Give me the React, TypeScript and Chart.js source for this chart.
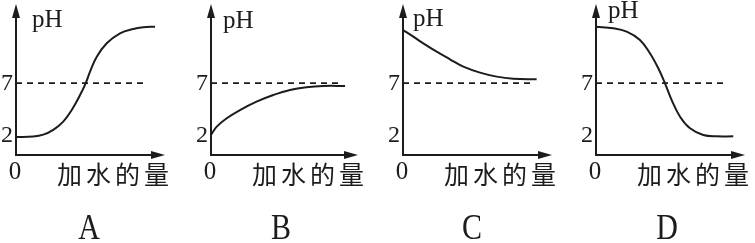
import React, { useEffect, useRef } from "react";
import { Chart, registerables } from "chart.js";

Chart.register(...registerables);

// ---- data ----
const panelLetters = ["A", "B", "C", "D"];
const yTitle = "pH";
const xTitle = "加水的量";
const originLabel = "0";
const yTickValues = [2, 7];
const neutralPH = 7;

const aX = [0, 1.16, 1.83, 2.5, 3.17, 3.74, 4.3, 4.63, 4.97, 5.42, 6.09, 6.98, 7.87, 8.54, 9.33];
const aPH = [1.75, 1.8, 1.98, 2.45, 3.25, 4.38, 5.84, 6.82, 8.11, 9.57, 10.88, 11.85, 12.27, 12.43, 12.49];

const bX = [0, 0.39, 1.07, 1.97, 3.1, 4.24, 5.37, 6.49, 7.64, 9.12];
const bPH = [1.95, 2.76, 3.58, 4.38, 5.2, 5.84, 6.33, 6.6, 6.72, 6.72];

const cX = [0, 0.69, 1.36, 2.26, 3.15, 4.05, 5.17, 6.29, 7.4, 8.97];
const cPH = [12.17, 11.52, 10.87, 10.06, 9.32, 8.6, 8.02, 7.63, 7.43, 7.37];

const dX = [0, 1.16, 2.06, 2.95, 3.62, 4.18, 4.63, 5.08, 5.64, 6.31, 7.2, 8.1, 9.21];
const dPH = [12.49, 12.34, 12.01, 11.2, 9.9, 8.44, 6.98, 5.35, 3.73, 2.6, 1.95, 1.82, 1.82];

const dashEnds = [8.86, 8.9, 8.75, 8.76];
const seriesX = [aX, bX, cX, dX];
const seriesPH = [aPH, bPH, cPH, dPH];

// ---- layout / style ----
const INK = "#1c1c1c";
const SERIF = '"Liberation Serif", "DejaVu Serif", serif';
const CJK = '"Noto Sans CJK SC", "Noto Sans CJK JP", sans-serif';
const layouts = [
  { left: 0, width: 190, padL: 16, padR: 25, phX: 32, phY: 27, letterX: 89 },
  { left: 190, width: 190, padL: 21, padR: 22, phX: 33, phY: 28, letterX: 91 },
  { left: 380, width: 190, padL: 23, padR: 18, phX: 33, phY: 26, letterX: 92 },
  { left: 570, width: 185, padL: 26, padR: 10, phX: 38, phY: 18, letterX: 97 },
];
const H = 243;
const PAD_TOP = 4;
const PAD_BOTTOM = 88;

function makeOverlay(i: number) {
  const lay = layouts[i];
  return {
    id: "overlay" + i,
    afterDatasetsDraw(chart: any) {
      const { ctx, chartArea, scales } = chart;
      const { left, right, top, bottom } = chartArea;
      const y = scales.y;
      ctx.save();
      ctx.strokeStyle = INK;
      ctx.fillStyle = INK;
      ctx.lineWidth = 2;
      // y axis + arrow
      ctx.beginPath();
      ctx.moveTo(left, bottom + 1);
      ctx.lineTo(left, top + 10);
      ctx.stroke();
      ctx.beginPath();
      ctx.moveTo(left, top);
      ctx.lineTo(left - 4, top + 14);
      ctx.lineTo(left + 4, top + 14);
      ctx.closePath();
      ctx.fill();
      // x axis + arrow
      ctx.beginPath();
      ctx.moveTo(left - 1, bottom);
      ctx.lineTo(right - 10, bottom);
      ctx.stroke();
      ctx.beginPath();
      ctx.moveTo(right, bottom);
      ctx.lineTo(right - 14, bottom - 4);
      ctx.lineTo(right - 14, bottom + 4);
      ctx.closePath();
      ctx.fill();
      // y ticks
      ctx.font = "24px " + SERIF;
      ctx.textAlign = "right";
      ctx.textBaseline = "middle";
      yTickValues.forEach((v) => {
        ctx.fillText(String(v), left - 3, y.getPixelForValue(v) + 1);
      });
      // origin
      ctx.textAlign = "center";
      ctx.textBaseline = "top";
      ctx.font = "25px " + SERIF;
      ctx.fillText(originLabel, left - 1, bottom + 5);
      // pH
      ctx.textAlign = "left";
      ctx.textBaseline = "alphabetic";
      ctx.font = "25px " + SERIF;
      ctx.fillText(yTitle, lay.phX, lay.phY);
      // x title
      ctx.font = "25px " + CJK;
      ctx.textBaseline = "top";
      let cx = left + 41;
      for (const ch of xTitle) {
        ctx.fillText(ch, cx, bottom + 7);
        cx += ctx.measureText(ch).width + 4;
      }
      // panel letter
      ctx.save();
      ctx.translate(lay.letterX, 239);
      ctx.scale(1, 1.22);
      ctx.font = "30px " + SERIF;
      ctx.textAlign = "center";
      ctx.textBaseline = "alphabetic";
      ctx.fillText(panelLetters[i], 0, 0);
      ctx.restore();
      ctx.restore();
    },
  };
}

function Panel({ i }: { i: number }) {
  const ref = useRef<HTMLCanvasElement | null>(null);
  useEffect(() => {
    const lay = layouts[i];
    const xs = seriesX[i];
    const ys = seriesPH[i];
    const chart = new Chart(ref.current as HTMLCanvasElement, {
      type: "line",
      data: {
        datasets: [
          {
            data: xs.map((x, k) => ({ x, y: ys[k] })),
            borderColor: INK,
            borderWidth: 2,
            pointRadius: 0,
            fill: false,
            tension: 0.4,
          },
          {
            data: [
              { x: 0, y: neutralPH },
              { x: dashEnds[i], y: neutralPH },
            ],
            borderColor: INK,
            borderWidth: 1.6,
            borderDash: [6, 5],
            pointRadius: 0,
            fill: false,
          },
        ],
      } as any,
      options: {
        animation: false,
        responsive: false,
        events: [],
        layout: {
          padding: { left: lay.padL, right: lay.padR, top: PAD_TOP, bottom: PAD_BOTTOM },
        },
        plugins: { legend: { display: false }, tooltip: { enabled: false } },
        scales: {
          x: { type: "linear", min: 0, max: 10, display: false },
          y: { type: "linear", min: 0, max: 14.7, display: false },
        },
      } as any,
      plugins: [makeOverlay(i)],
    });
    return () => chart.destroy();
  }, [i]);
  const lay = layouts[i];
  return (
    <canvas
      ref={ref}
      width={lay.width}
      height={H}
      style={{ position: "absolute", left: lay.left, top: 0, width: lay.width, height: H }}
    />
  );
}

export default function App() {
  return (
    <div
      style={{
        position: "absolute",
        left: 0,
        top: 0,
        width: 755,
        height: H,
        background: "#fff",
        overflow: "hidden",
      }}
    >
      {panelLetters.map((_, i) => (
        <Panel key={i} i={i} />
      ))}
    </div>
  );
}
